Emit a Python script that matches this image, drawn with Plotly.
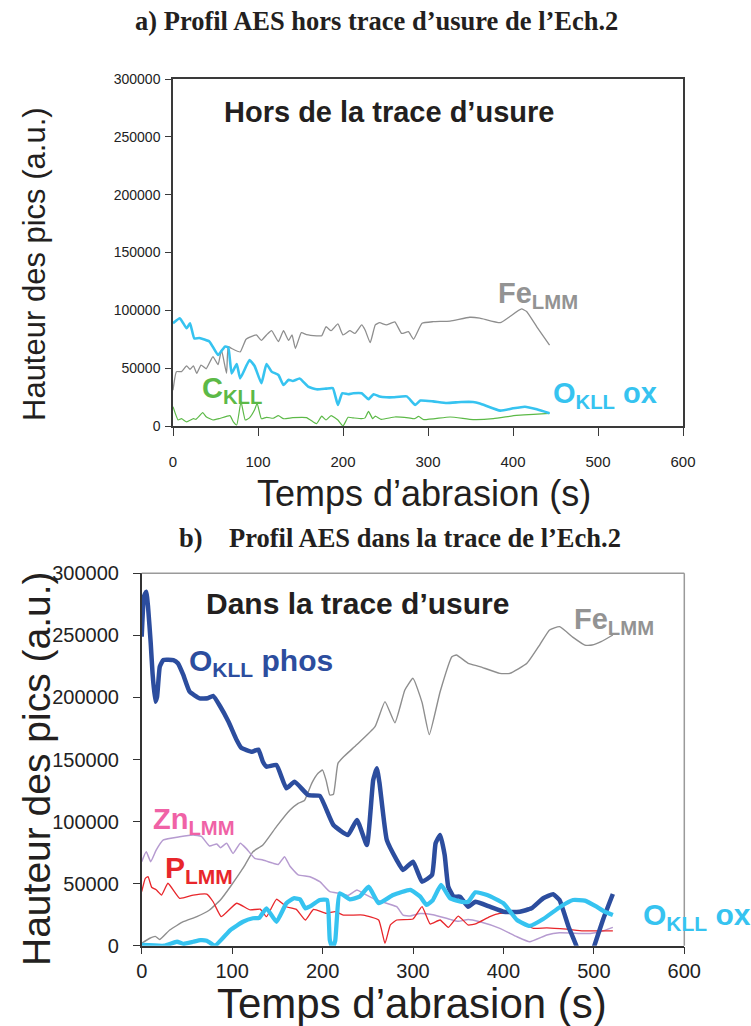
import plotly.graph_objects as go

# ---------------- data: panel a (hors trace) ----------------
fe_a_x = [0, 4, 10, 16, 20, 24, 28, 33, 39, 47, 53, 57, 63, 65, 69, 79, 86, 98, 104, 110, 116, 124, 130, 136, 140, 144,
          151, 157, 169, 175, 180, 186, 194, 200, 208, 214, 222, 226, 232, 238, 243, 251, 261, 269, 277, 283, 293, 306,
          326, 349, 361, 385, 396, 410, 416, 428, 443]
fe_a_y = [31000, 47000, 47000, 52000, 49000, 52000, 45500, 52700, 49500, 60000, 53000, 65700, 45500, 68600, 67000,
          64000, 75000, 78700, 74000, 78700, 82400, 72900, 82400, 74000, 78700, 67000, 80800, 79000, 78000, 78000,
          85800, 82400, 88200, 78700, 82400, 80000, 87400, 83000, 72000, 87400, 89300, 87400, 90000, 80000, 81500,
          75000, 88800, 90200, 90700, 94000, 93300, 89300, 94500, 101200, 99000, 85800, 70000]

oox_a_x = [0, 8, 16, 20, 25, 31, 43, 53, 61, 65, 69, 75, 79, 90, 96, 104, 110, 116, 124, 130, 136, 141, 149, 159, 169,
           180, 188, 194, 199, 206, 212, 222, 230, 236, 243, 251, 259, 275, 285, 291, 306, 322, 339, 353, 361, 385,
           400, 414, 428, 443]
oox_a_y = [88800, 93100, 84500, 88800, 75800, 76000, 72900, 61400, 68600, 68000, 45500, 53600, 41200, 57000, 51900,
           36900, 53600, 47000, 44100, 35400, 40000, 38900, 41000, 34000, 31700, 32300, 32800, 18200, 28300, 27500,
           28300, 28300, 23100, 27500, 25500, 24800, 24800, 25600, 18200, 22000, 21300, 19900, 20700, 20700, 19500,
           13300, 15300, 16700, 14400, 11000]

c_a_x = [0, 6, 10, 16, 24, 27, 35, 39, 47, 55, 67, 71, 75, 80, 85, 90, 96, 99, 104, 110, 118, 124, 130, 141, 157, 165,
         169, 175, 180, 186, 194, 200, 206, 212, 222, 226, 230, 235, 238, 245, 261, 277, 284, 289, 295, 326, 353, 377,
         404, 424, 443]
c_a_y = [16700, 5200, 6300, 3500, 6300, 5800, 11500, 8000, 5200, 6500, 9000, 3500, 900, 21000, 5200, 7000, 14000,
         19600, 6300, 7500, 6700, 9000, 6300, 7200, 7200, 3500, 2000, 8500, 5200, 9000, 5200, 0, 7500, 7000, 6300,
         7000, 12600, 6300, 8500, 5700, 7800, 7000, 6300, 8300, 5500, 7800, 5500, 6300, 9200, 10000, 11000]

# ---------------- data: panel b (dans la trace) ----------------
fe_b_x = [0, 9, 15, 20, 31, 46, 61, 75, 87, 98, 112, 123, 134, 149, 164, 173, 180, 188, 195, 200, 204, 208, 212, 217,
          223, 238, 258, 269, 280, 291, 300, 310, 318, 330, 343, 348, 361, 374, 396, 407, 426, 440, 451, 462, 477,
          490, 498, 508, 521]
fe_b_y = [2000, 6000, 7500, 5000, 12600, 19300, 23400, 28800, 36800, 47500, 62400, 75700, 81100, 95900, 109300,
          114700, 117000, 130800, 138900, 141500, 133000, 121400, 122000, 146900, 152000, 162000, 176400, 196600,
          179600, 206000, 215400, 196000, 170000, 204600, 232800, 234200, 227500, 224800, 219400, 219400, 227500,
          242200, 254300, 257000, 248400, 242200, 242200, 244900, 250300]

ophos_x = [0, 2.5, 5, 7, 10, 12, 15, 17, 20, 24, 35, 40, 46, 53, 64, 73, 79, 87, 96, 105, 110, 122, 129, 134, 138, 149,
           160, 169, 184, 197, 212, 228, 238, 249, 256, 260, 263, 271, 282, 289, 300, 310, 321, 325, 330, 335, 339,
           345, 352, 361, 369, 385, 400, 418, 431, 444, 455, 462, 472, 481, 490, 499, 510, 521]
ophos_y = [248900, 281200, 285200, 273100, 243600, 219400, 196600, 200600, 224800, 230200, 230000, 227500, 218100,
           204600, 199300, 199300, 201200, 192500, 180400, 165700, 159500, 156300, 158000, 148200, 144200, 145600,
           126800, 132100, 121400, 120600, 97200, 89200, 101300, 81100, 133500, 142900, 130800, 85200, 69000, 61000,
           67700, 51600, 57000, 82500, 89200, 73100, 47500, 39500, 39500, 31400, 35400, 31400, 27400, 27400, 30100,
           38200, 41400, 36800, 15300, -800, -25000, -3500, 20700, 41600]

oox_b_x = [0, 25, 39, 46, 57, 65, 72, 81, 98, 112, 123, 130, 138, 149, 160, 168, 175, 181, 188, 197, 205, 208, 211,
           214, 219, 230, 241, 251, 262, 278, 297, 308, 315, 322, 331, 341, 354, 361, 369, 382, 400, 415, 429, 444,
           463, 477, 490, 503, 512, 521]
oox_b_y = [600, 0, 3200, 1500, 3200, 4500, 4000, 0, 12600, 19300, 22100, 22500, 30100, 19300, 34200, 38200, 37400,
           30100, 32500, 36800, 36800, 4600, -2100, 4000, 42200, 37400, 39500, 47500, 34200, 40800, 44900, 39500,
           32800, 36800, 48900, 38200, 35400, 35400, 43000, 40800, 34200, 20700, 15900, 21500, 31400, 36800, 36300,
           31400, 27400, 24700]

zn_x = [0, 5, 10, 16, 24, 42, 57, 66, 75, 83, 87, 94, 101, 109, 116, 125, 134, 145, 151, 158, 164, 173, 186, 197, 208,
        219, 228, 238, 245, 260, 282, 289, 297, 308, 322, 341, 350, 361, 374, 396, 415, 429, 448, 462, 485, 496, 507,
        521]
zn_y = [67700, 75700, 67700, 77000, 85200, 87800, 89200, 88000, 80300, 82000, 79000, 82500, 74300, 82500, 78000,
        70400, 69000, 66500, 65400, 71700, 64000, 57000, 55600, 51600, 43500, 42200, 40500, 44900, 42200, 36800,
        31400, 24700, 24000, 26000, 25000, 21200, 19600, 21200, 19300, 14000, 7200, 3200, 8600, 10400, 9900, 9900,
        11200, 14800]

p_x = [0, 4, 7, 11, 16, 22, 29, 42, 57, 72, 79, 88, 105, 120, 131, 138, 149, 160, 171, 181, 190, 204, 214, 223, 245,
       262, 269, 275, 282, 300, 310, 319, 330, 339, 350, 361, 370, 385, 396, 407, 418, 433, 448, 470, 488, 507, 521]
p_y = [43500, 54300, 55600, 47100, 45000, 40800, 50300, 38200, 40800, 41600, 35400, 23400, 34200, 28800, 29500, 23400,
       37400, 31400, 29300, 20700, 29300, 26000, 27500, 24700, 24700, 20700, 1900, 16700, 20700, 21500, 31400, 17500,
       20700, 14800, 23900, 16700, 17800, 23400, 26000, 26000, 19300, 14000, 14400, 13300, 11900, 12000, 12000]

x_ticks = [0, 100, 200, 300, 400, 500, 600]
y_ticks = [0, 50000, 100000, 150000, 200000, 250000, 300000]

# ---------------- colours ----------------
GREY = "#8e8e8e"
LBLUE = "#36c3f0"
DBLUE = "#2c4d9e"
GREEN = "#5cb947"
RED = "#e8262b"
PURPLE = "#b69bd0"
PINK = "#f062a6"

W, H = 751, 1026


def px_x(p):
    return p / W


def px_y(p):
    return 1 - p / H


fig = go.Figure()


def add_line(x, y, color, width, axis):
    fig.add_trace(go.Scatter(x=x, y=y, mode="lines", xaxis="x" + axis, yaxis="y" + axis,
                             line=dict(color=color, width=width, shape="spline", smoothing=0.4),
                             hoverinfo="skip", showlegend=False))


# panel a
add_line(fe_a_x, fe_a_y, GREY, 1.3, "")
add_line(c_a_x, c_a_y, GREEN, 1.2, "")
add_line(oox_a_x, oox_a_y, LBLUE, 2.6, "")
# panel b
add_line(fe_b_x, fe_b_y, GREY, 1.4, "2")
add_line(zn_x, zn_y, PURPLE, 1.5, "2")
add_line(p_x, p_y, RED, 1.3, "2")
add_line(ophos_x, ophos_y, DBLUE, 4.5, "2")
add_line(oox_b_x, oox_b_y, LBLUE, 4.3, "2")

SANS = "Liberation Sans, Arial, sans-serif"
SERIF = "Liberation Serif, Times New Roman, serif"

ax_common = dict(showgrid=False, zeroline=False, ticks="outside", showline=True, automargin=False)

fig.update_layout(
    width=W, height=H, margin=dict(l=0, r=0, t=0, b=0, autoexpand=False),
    paper_bgcolor="white", plot_bgcolor="white",
    xaxis=dict(domain=[px_x(173), px_x(683)], anchor="y", range=[0, 600], tickvals=x_ticks,
               linecolor="#3a3a3a", linewidth=1.5, mirror=True, ticklen=8, tickcolor="#3a3a3a",
               tickfont=dict(family=SANS, size=15, color="#222"), ticklabelstandoff=13, **ax_common),
    yaxis=dict(domain=[px_y(426), px_y(79)], anchor="x", range=[0, 300000], tickvals=y_ticks,
               tickformat="d", linecolor="#3a3a3a", linewidth=1.5, mirror=True, ticklen=6,
               tickcolor="#3a3a3a", tickfont=dict(family=SANS, size=14, color="#222"),
               ticklabelstandoff=2, **ax_common),
    xaxis2=dict(domain=[px_x(141.7), px_x(684.3)], anchor="y2", range=[0, 600], tickvals=x_ticks,
                linecolor="#333", linewidth=1.5, ticklen=7, tickcolor="#333",
                tickfont=dict(family=SANS, size=20, color="#222"), ticklabelstandoff=0, **ax_common),
    yaxis2=dict(domain=[px_y(945.7), px_y(573.3)], anchor="x2", range=[0, 300000], tickvals=y_ticks,
                tickformat="d", linecolor="#333", linewidth=1.5, ticklen=7, tickcolor="#333",
                tickfont=dict(family=SANS, size=20, color="#222"), ticklabelstandoff=10, **ax_common),
)

# grey frame on top/right of panel b
fig.add_shape(type="line", xref="x2 domain", yref="y2 domain", x0=0, x1=1, y0=1, y1=1,
              line=dict(color="#9a9a9a", width=1.5))
fig.add_shape(type="line", xref="x2 domain", yref="y2 domain", x0=1, x1=1, y0=0, y1=1,
              line=dict(color="#9a9a9a", width=1.5))


def ann(text, x, y, size, color, family=SANS, xanchor="left", yanchor="middle", angle=0):
    fig.add_annotation(text=text, x=px_x(x), y=px_y(y), xref="paper", yref="paper", showarrow=False,
                       xanchor=xanchor, yanchor=yanchor, textangle=angle,
                       font=dict(family=family, size=size, color=color))


# titles
ann("<b>a) Profil AES hors trace d’usure de l’Ech.2</b>", 376, 21, 26.5, "#231f20", SERIF, xanchor="center")
ann("<b>b)\u00a0\u00a0\u00a0\u00a0Profil AES dans la trace de l’Ech.2</b>", 400, 538, 26.5, "#231f20", SERIF,
    xanchor="center")

# axis titles
ann("Temps d’abrasion (s)", 424, 494, 36, "#231f20", xanchor="center")
ann("Hauteur des pics (a.u.)", 34, 264, 31, "#231f20", xanchor="center", angle=-90)
ann("Temps d’abrasion (s)", 412, 1003, 42, "#231f20", xanchor="center")
ann("Hauteur des pics (a.u.)", 36, 769, 39, "#231f20", xanchor="center", angle=-90)

# in-plot labels panel a
ann("<b>Hors de la trace d’usure</b>", 389, 112, 29, "#231f20", xanchor="center")
ann("<b>Fe<sub>LMM</sub></b>", 496, 295, 29, "#939393")
ann("<b>C<sub>KLL</sub></b>", 200, 390, 29, GREEN)
ann("<b>O<sub>KLL</sub> ox</b>", 551, 395, 29, LBLUE)

# in-plot labels panel b
ann("<b>Dans la trace d’usure</b>", 357, 603, 30, "#231f20", xanchor="center")
ann("<b>O<sub>KLL</sub> phos</b>", 187, 662, 30, DBLUE)
ann("<b>Fe<sub>LMM</sub></b>", 572, 621, 29, "#939393")
ann("<b>Zn<sub>LMM</sub></b>", 151, 821, 29, PINK)
ann("<b>P<sub>LMM</sub></b>", 163, 869, 30, RED)
ann("<b>O<sub>KLL</sub> ox</b>", 641, 916, 30, LBLUE)

fig.write_html("out.html", config={"displayModeBar": False},
               post_script="document.body.style.margin='0px';document.body.style.overflow='hidden';")
